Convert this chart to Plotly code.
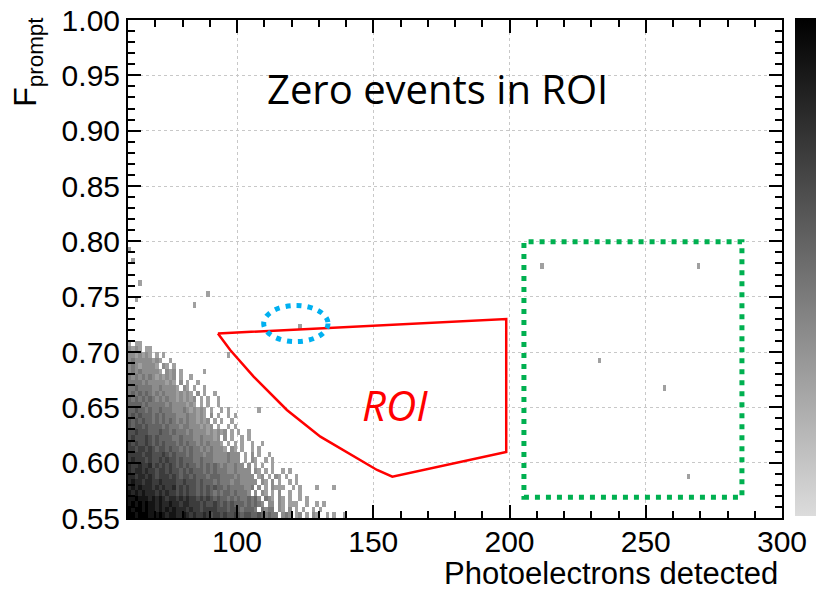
import plotly.graph_objects as go

# ---------------- data ----------------
# 2D histogram of events: bin grid (PE x F_prompt)
x_bin_start = 60.0
x_bin_width = 1.25
n_x_bins = 192
y_bin_start = 0.55
y_bin_width = 0.005
n_y_bins = 90

# dense population, estimated grey level per bin (1 = lightest, 9 = darkest, '.' = empty)
# first string is the row at bin index 31 (F~0.708), last string is row 0 (F~0.553)
dense_top_row = 31
dense_rows = [
    "1.1",
    "2121.1",
    "2212121.1.1",
    "2322222121..1",
    "232122221.21.1",
    "2323222221.212.1",
    "32323232121212.1..1",
    "33332322222121.2.1..1",
    "334333322322221.21.1..1",
    "3434343232322212121.2.1..1",
    "43434343232322121212.1.1..1",
    "44443433333232222121.1.1..1",
    "44544343343332223212121.1..1.1",
    "45454443434333222322121.2.1..1.1",
    "545454434343432323221212.1.1..1",
    "5455454444343332332221212.1..1.1",
    "55655544454434333232222121212.1.1..1",
    "565556545444433433322322212.2.1..1.1",
    "6565565454544434343323232221.1.1.1..1",
    "66566565455454434343323232221.21.1..1.1",
    "666656655565454443433323322223222.1.2.1..1",
    "676665655656554544433433322223222.1.21..1.1",
    "7667667565656545454434343432322322.2.1.1..1",
    "767767665665655454544434343332232222.21.1.1..1.1",
    "7767767656665654554544434443333232222.12.1.21.1..1",
    "78776776676666556555454443433323322222.21.2.1..1.1",
    "7878777676766756565545454544343333223.2.1.21.1..1.1",
    "878787776767665656554545434344343332.2.21.1.2..1..1",
    "889888787876776767665656545443434334342.321.21.1..1.1",
    "8989898878778776776665655654545444343432.22.21.1.1..1..1",
    "98998988787878777676656666555455434443.3233.21.2.1.1..1.1",
    "99899988898788778767667656656556545544543433.232.12.1.21..1.1..1",
]

# isolated single events (PE, F_prompt)
sparse_pe = [61.0, 62.0, 64.0, 63.0, 88.8, 83.8, 63.8, 67.8, 96.9, 88.0,
             107.9, 108.8, 101.9, 106.8, 115.0, 128.9, 135.8, 131.8, 120.9,
             132.5, 122.8, 118.9, 122.9, 211.8, 268.9, 232.9, 256.9, 265.9]
sparse_f = [0.793, 0.782, 0.764, 0.748, 0.753, 0.743, 0.708, 0.703, 0.698, 0.683,
            0.648, 0.618, 0.613, 0.603, 0.579, 0.578, 0.578, 0.564, 0.564,
            0.554, 0.554, 0.554, 0.7235, 0.778, 0.778, 0.693, 0.668, 0.588]

# ROI boundary (PE, F_prompt)
roi_pe = [93.0, 97.5, 106.1, 118.3, 130.6, 142.8, 151.4, 157.0, 198.8, 198.8, 93.0]
roi_f = [0.7167, 0.7018, 0.6777, 0.6476, 0.6235, 0.6054, 0.5934, 0.5873, 0.6096, 0.7298, 0.7167]

# highlighted event (blue ellipse) and control region (green box)
ellipse_pe = [109.8, 133.4]
ellipse_f = [0.7094, 0.7420]
box_pe = [205.3, 285.3]
box_f = [0.5687, 0.7997]

x_ticks = [100, 150, 200, 250, 300]
y_ticks = [0.55, 0.60, 0.65, 0.70, 0.75, 0.80, 0.85, 0.90, 0.95, 1.00]

# ---------------- build histogram grid ----------------
z = [[None] * n_x_bins for _ in range(n_y_bins)]
for r, row in enumerate(dense_rows):
    k = dense_top_row - r
    for c, ch in enumerate(row):
        if ch != ".":
            z[k][c] = int(ch)
for px, fy in zip(sparse_pe, sparse_f):
    i = int((px - x_bin_start) / x_bin_width)
    j = int((fy - y_bin_start) / y_bin_width)
    if z[j][i] is None:
        z[j][i] = 1

fig = go.Figure()

fig.add_trace(go.Heatmap(
    z=z,
    x0=x_bin_start + x_bin_width / 2, dx=x_bin_width,
    y0=y_bin_start + y_bin_width / 2, dy=y_bin_width,
    colorscale=[[0, "#dcdcdc"], [1, "#000000"]],
    zmin=-2, zmax=9,
    hoverinfo="skip",
    colorbar=dict(x=1.0199, xanchor="left", xpad=0, y=0.505, yanchor="middle",
                  len=1.0, ypad=0, thickness=30, showticklabels=False, ticks="",
                  outlinewidth=0),
))

fig.add_trace(go.Scatter(
    x=roi_pe, y=roi_f, mode="lines",
    line=dict(color="#ff0000", width=2.5),
    hoverinfo="skip", showlegend=False,
))

fig.add_shape(type="circle", xref="x", yref="y",
              x0=ellipse_pe[0], x1=ellipse_pe[1], y0=ellipse_f[0], y1=ellipse_f[1],
              line=dict(color="#00b0f0", width=5, dash="5px,6px"))
fig.add_shape(type="rect", xref="x", yref="y",
              x0=box_pe[0], x1=box_pe[1], y0=box_f[0], y1=box_f[1],
              line=dict(color="#00b050", width=5, dash="5px,6px"))

tick_font = dict(family="Liberation Sans, Arial, sans-serif", size=30, color="black")

axis_common = dict(
    ticks="inside", ticklen=13, tickwidth=1.5, tickcolor="black",
    showline=True, linecolor="black", linewidth=2, mirror="allticks",
    showgrid=True, gridcolor="#c8c8c8", gridwidth=1, griddash="dot",
    zeroline=False, tickfont=tick_font,
)

fig.update_xaxes(range=[60, 300], tickvals=x_ticks, ticktext=[str(v) for v in x_ticks],
                 ticklabelstandoff=-4,
                 minor=dict(dtick=10, tick0=0, ticks="inside", ticklen=7,
                            tickwidth=1.5, tickcolor="black", showgrid=False),
                 **axis_common)
fig.update_yaxes(range=[0.55, 1.0], tickvals=y_ticks, ticktext=[f"{v:.2f}" for v in y_ticks],
                 minor=dict(dtick=0.01, tick0=0, ticks="inside", ticklen=7,
                            tickwidth=1.5, tickcolor="black", showgrid=False),
                 **axis_common)

fig.add_annotation(text="Zero events in ROI", xref="paper", yref="paper",
                   x=0.4725, y=0.862, xanchor="center", yanchor="middle",
                   showarrow=False, font=dict(family="Open Sans, sans-serif", size=40, color="black"))
fig.add_annotation(text="<i>ROI</i>", xref="x", yref="y",
                   x=158.0, y=0.653, xanchor="center", yanchor="middle",
                   showarrow=False, font=dict(family="Open Sans, sans-serif", size=42, color="#ff0000"))
fig.add_annotation(text="Photoelectrons detected", xref="paper", yref="paper",
                   x=0.997, y=-0.112, xanchor="right", yanchor="middle",
                   showarrow=False, font=dict(family="Liberation Sans, Arial, sans-serif", size=31, color="black"))
fig.add_annotation(text="F<sub>prompt</sub>", xref="paper", yref="paper",
                   x=-0.153, y=0.916, xanchor="center", yanchor="middle", textangle=-90,
                   showarrow=False, font=dict(family="Liberation Sans, Arial, sans-serif", size=32, color="black"))

fig.update_layout(
    width=816, height=595,
    margin=dict(l=128, r=34, t=20, b=77, autoexpand=False),
    paper_bgcolor="white", plot_bgcolor="white",
    showlegend=False,
)

fig.write_html("out.html")
